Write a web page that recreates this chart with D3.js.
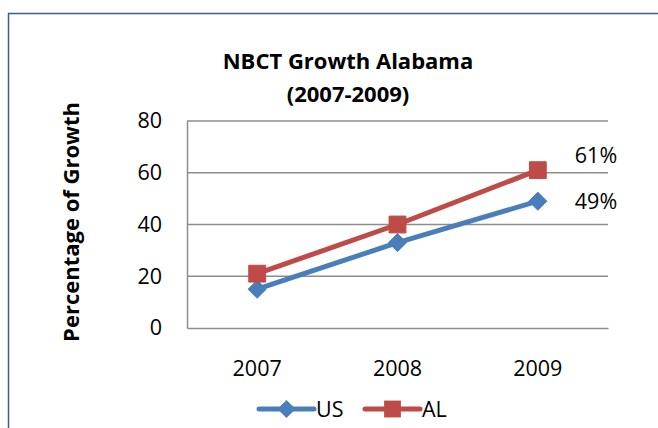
<!DOCTYPE html>
<html><head><meta charset="utf-8">
<script src="https://cdn.jsdelivr.net/npm/d3@7"></script>
<style>html,body{margin:0;padding:0;background:#fff;overflow:hidden}</style>
</head><body>
<svg id="c" width="658" height="428"></svg>
<script>
const categories = ["2007", "2008", "2009"];
const usValues = [15, 33, 49];
const alValues = [21, 40, 61];
const yTicks = [0, 20, 40, 60, 80];
const seriesNames = ["US", "AL"];
const lastLabels = ["49%", "61%"];

const FONT = "'Open Sans', Lato, sans-serif";
const svg = d3.select("#c");
const colors = {US: "#4a7ebb", AL: "#be4b48"};

// outer border
svg.append("rect").attr("x", 8.5).attr("y", 13.5).attr("width", 700).attr("height", 500)
  .attr("fill", "none").attr("stroke", "#3a6090").attr("stroke-width", 1.5);

const L = 187, R = 608, T = 121, B = 328;
const x = d3.scaleBand().domain(categories).range([L, R]);
const y = d3.scaleLinear().domain([0, 80]).range([B, T]);

// gridlines
svg.append("g").selectAll("line").data(yTicks.filter(d => d > 0)).join("line")
  .attr("x1", L).attr("x2", R).attr("y1", d => y(d)).attr("y2", d => y(d))
  .attr("stroke", "#8c8c8c").attr("stroke-width", 1.5);

// y axis
const ya = svg.append("g").attr("transform", `translate(${L},0)`)
  .call(d3.axisLeft(y).tickValues(yTicks).tickSize(0).tickPadding(25));
ya.select(".domain").attr("stroke", "#8c8c8c").attr("stroke-width", 1.5);
ya.selectAll("text").attr("font-family", FONT).attr("font-size", 21.5).attr("fill", "#000");

// x axis
const xa = svg.append("g").attr("transform", `translate(0,${B})`)
  .call(d3.axisBottom(x).tickSize(0).tickPadding(33));
xa.select(".domain").attr("stroke", "#8c8c8c").attr("stroke-width", 1.5);
xa.selectAll("text").attr("font-family", FONT).attr("font-size", 21.5).attr("fill", "#000");

const cx = d => x(d) + x.bandwidth() / 2;
const line = d3.line().x(d => cx(d.c)).y(d => y(d.v));
const series = [
  {name: "US", vals: usValues, label: lastLabels[0], off: 0},
  {name: "AL", vals: alValues, label: lastLabels[1], off: -15}
];
series.forEach(s => {
  const pts = categories.map((c, i) => ({c, v: s.vals[i]}));
  svg.append("path").datum(pts).attr("d", line).attr("fill", "none")
    .attr("stroke", colors[s.name]).attr("stroke-width", 5).attr("stroke-linejoin", "round");
  const sym = s.name === "US" ? d3.symbolDiamond2 : d3.symbolSquare2;
  const size = s.name === "US" ? 210 : 360;
  svg.append("g").selectAll("path").data(pts).join("path")
    .attr("transform", d => `translate(${cx(d.c)},${y(d.v)})`)
    .attr("d", d3.symbol().type(sym).size(size))
    .attr("fill", colors[s.name]).attr("stroke", colors[s.name]).attr("stroke-width", 1);
  const lp = pts[pts.length - 1];
  svg.append("text").attr("x", cx(lp.c) + 37).attr("y", y(lp.v) + s.off).attr("dy", "0.35em")
    .attr("font-family", FONT).attr("font-size", 21.5).text(s.label);
});

// title
const title = svg.append("text").attr("x", 348).attr("text-anchor", "middle")
  .attr("font-family", FONT).attr("font-size", 22).attr("font-weight", "bold");
title.append("tspan").attr("x", 348).attr("y", 69).text("NBCT Growth Alabama");
title.append("tspan").attr("x", 348).attr("y", 102).text("(2007-2009)");

// y title
svg.append("text").attr("transform", "translate(79,222) rotate(-90)")
  .attr("text-anchor", "middle").attr("font-family", FONT).attr("font-size", 22)
  .attr("font-weight", "bold").text("Percentage of Growth");

// legend
const legend = [{name: "US", x0: 259}, {name: "AL", x0: 365}];
legend.forEach(l => {
  const g = svg.append("g");
  g.append("line").attr("x1", l.x0).attr("x2", l.x0 + 55).attr("y1", 409).attr("y2", 409)
    .attr("stroke", colors[l.name]).attr("stroke-width", 5).attr("stroke-linecap", "round");
  g.append("path").attr("transform", `translate(${l.x0 + 27.5},409)`)
    .attr("d", d3.symbol().type(l.name === "US" ? d3.symbolDiamond2 : d3.symbolSquare2).size(l.name === "US" ? 210 : 360))
    .attr("fill", colors[l.name]);
  g.append("text").attr("x", l.x0 + 57).attr("y", 409).attr("dy", "0.35em")
    .attr("font-family", FONT).attr("font-size", 21.5).text(l.name);
});
</script>
</body></html>
